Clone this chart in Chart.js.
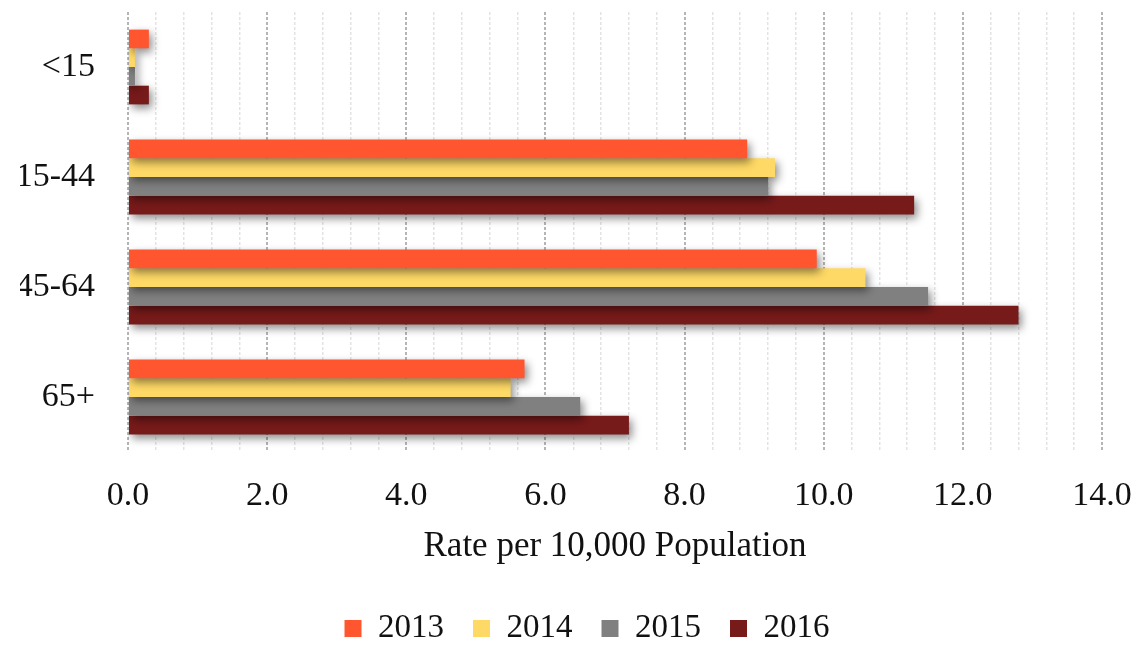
<!DOCTYPE html>
<html>
<head>
<meta charset="utf-8">
<script src="https://cdn.jsdelivr.net/npm/chart.js@4/dist/chart.umd.min.js"></script>
<style>
  html, body { margin: 0; padding: 0; background: #fff; }
  #wrap { width: 1140px; height: 650px; }
</style>
</head>
<body>
<div id="wrap"><canvas id="Graph"></canvas></div>
<script>
// age groups and rates per 10,000 population
var ageGroups = ["<15", "15-44", "45-64", "65+"];
var years = ["2013", "2014", "2015", "2016"];
var rate2013 = [0.3, 8.9, 9.9, 5.7];
var rate2014 = [0.1, 9.3, 10.6, 5.5];
var rate2015 = [0.1, 9.2, 11.5, 6.5];
var rate2016 = [0.3, 11.3, 12.8, 7.2];
var xTicks = [0, 2, 4, 6, 8, 10, 12, 14];

var colors = ["#FF5630", "#FED966", "#808080", "#771A1A"];
var serif = "'Liberation Serif', 'Times New Roman', serif";

function isMajor(v) {
    return xTicks.some(function(t) { return Math.abs(t - v) < 1e-6; });
}

// soft drop shadow under the bars
var shadowPlugin = {
    id: "barShadow",
    beforeDatasetsDraw: function(chart) {
        var ctx = chart.ctx;
        ctx.save();
        ctx.shadowColor = "rgba(0,0,0,0.45)";
        ctx.shadowBlur = 8;
        ctx.shadowOffsetX = 3;
        ctx.shadowOffsetY = 4;
    },
    afterDatasetsDraw: function(chart) {
        chart.ctx.restore();
    }
};

// legend sits a bit right of the canvas centre in the original
var legendShift = {
    id: "legendShift",
    afterLayout: function(chart) {
        if (chart.legend) {
            chart.legend.left += 26;
            chart.legend.right += 26;
        }
    }
};

var series = [rate2013, rate2014, rate2015, rate2016];
var datasets = [];
for (var i = 0; i < years.length; i++) {
    datasets.push({
        label: years[i],
        data: series[i],
        backgroundColor: colors[i],
        borderWidth: 0,
        categoryPercentage: 0.68,
        barPercentage: 1.0
    });
}

var chart = new Chart("Graph", {
    type: "bar",
    data: { labels: ageGroups, datasets: datasets },
    plugins: [shadowPlugin, legendShift],
    options: {
        indexAxis: "y",
        responsive: true,
        maintainAspectRatio: false,
        animation: false,
        layout: { padding: { top: 12, left: 20, right: 38, bottom: 0 } },
        plugins: {
            tooltip: { enabled: false },
            legend: {
                position: "bottom",
                maxHeight: 67,
                labels: {
                    boxWidth: 17,
                    boxHeight: 17,
                    padding: 29,
                    color: "#111",
                    font: { family: serif, size: 33 }
                }
            }
        },
        scales: {
            x: {
                min: 0,
                max: 14,
                border: { display: false, dash: [3, 2] },
                grid: {
                    drawTicks: false,
                    color: function(c) { return isMajor(c.tick.value) ? "#b5b5b5" : "#e3e3e3"; },
                    lineWidth: function(c) { return isMajor(c.tick.value) ? 2 : 1.5; }
                },
                ticks: {
                    stepSize: 0.4,
                    autoSkip: false,
                    maxRotation: 0,
                    padding: 24,
                    color: "#111",
                    font: { family: serif, size: 34 },
                    callback: function(v) { return isMajor(v) ? Math.round(v).toFixed(1) : ""; }
                },
                title: {
                    display: true,
                    text: "Rate per 10,000 Population",
                    color: "#111",
                    font: { family: serif, size: 35 },
                    padding: { top: 13, bottom: 15 }
                },
                afterFit: function(s) {
                    s.height = 131;
                    s.paddingLeft = 0;
                    s.paddingRight = 0;
                }
            },
            y: {
                border: { display: false },
                grid: { display: false, drawTicks: false },
                ticks: {
                    padding: 33,
                    color: "#111",
                    font: { family: serif, size: 34 }
                },
                afterFit: function(s) {
                    s.width = 108;
                    s.paddingTop = 0;
                    s.paddingBottom = 0;
                }
            }
        }
    }
});
</script>
</body>
</html>
